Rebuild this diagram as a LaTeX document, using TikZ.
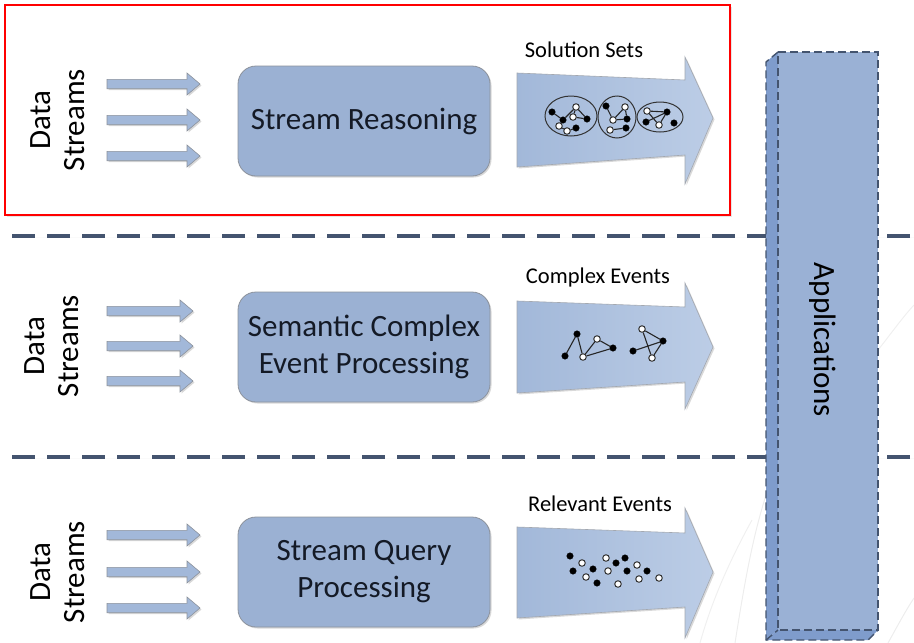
\documentclass[tikz,border=0pt]{standalone}
\usepackage{fontspec}
\setmainfont{Carlito}
\usetikzlibrary{shadows}
\definecolor{boxblue}{HTML}{9BB1D3}
\definecolor{arrowblue}{HTML}{A2B8D9}
\definecolor{arrowlight}{HTML}{BCCDE6}
\definecolor{frontblue}{HTML}{9AB1D5}
\definecolor{sideblue}{HTML}{7F9CCC}
\definecolor{dashnavy}{HTML}{44546F}
\definecolor{edgegray}{HTML}{8C929C}
\definecolor{inkdark}{HTML}{141A26}
% one line of text set with the font's own interword space
\newcommand\plainline[1]{\hbox{\spaceskip=0pt\xspaceskip=0pt\relax #1}}
\begin{document}
\begin{tikzpicture}[x=1pt,y=-1pt,
  softshadow/.style={drop shadow={opacity=0.3,shadow xshift=1.5pt,shadow yshift=-1.5pt}},
  procbox/.style={draw=edgegray,fill=boxblue,rounded corners=18pt,line width=0.8pt,
    minimum width=252pt,minimum height=110pt,align=center,
    text=inkdark,font=\fontsize{31}{37}\selectfont,softshadow},
  srclabel/.style={rotate=90,align=center,text=black,font=\fontsize{31}{34}\selectfont},
  outlabel/.style={text=black,font=\fontsize{22.5}{26}\selectfont},
  bigarrow/.style={draw=edgegray!80,line width=0.6pt,left color=arrowblue,right color=arrowlight,softshadow},
  smallarrow/.style={draw=edgegray,fill=arrowblue,line width=0.6pt,softshadow},
  sepline/.style={dashnavy,line width=4.2pt,dash pattern=on 23pt off 12pt,
    drop shadow={opacity=0.35,shadow xshift=1pt,shadow yshift=-1.5pt}},
  bn/.style={circle,fill=black,draw=black,inner sep=0pt,minimum size=6.5pt},
  wn/.style={circle,fill=white,draw=black!80,line width=1pt,inner sep=0pt,minimum size=6.5pt},
  gedge/.style={black!85,line width=1.1pt},
  setring/.style={draw=black!80,line width=1pt},
  appedge/.style={dashnavy,line width=1.4pt,dash pattern=on 8pt off 4pt}
]
\useasboundingbox (0,0) rectangle (914,643);

% faint strokes in the background
\draw[black!7,line width=1pt] (735,643) .. controls (745,580) and (755,520) .. (775,470);
\draw[black!7,line width=1pt] (888,643) .. controls (898,625) and (906,610) .. (914,598);
\draw[black!6,line width=1pt] (878,350) .. controls (890,335) and (902,318) .. (914,305);
\draw[black!6,line width=1pt] (700,643) .. controls (712,600) and (730,560) .. (752,520);

% frame around the stream reasoning layer
\draw[red,line width=1.6pt,drop shadow={opacity=0.2,shadow xshift=2pt,shadow yshift=-2pt},fill=white]
  (5,5) rectangle (730,215);

% dashed separators between the layers
\draw[sepline] (12,236) -- (914,236);
\draw[sepline] (12,457) -- (914,457);

% applications block with its side faces
\path[fill=sideblue] (778,52) -- (766,62) -- (766,640) -- (778,630) -- cycle;
\path[fill=sideblue] (766,640) -- (868,640) -- (878,630) -- (778,630) -- cycle;
\node[fill=frontblue,minimum width=100pt,minimum height=578pt,inner sep=0pt] (app) at (828,341) {};
\draw[appedge] (778,52) -- (878,52) -- (878,630) -- (778,630) -- cycle;
\draw[appedge] (778,52) -- (766,62) -- (766,640) -- (868,640) -- (878,630);
\draw[appedge] (766,640) -- (778,630);
\node[rotate=-90,text=black,font=\fontsize{31}{34}\selectfont] (apptext) at (823,340) {Applications};

% ---------- layer 1: stream reasoning ----------
\node[srclabel] (src1) at (58,120) {Data\\Streams};
\foreach \y in {84,120,156}
  \path[smallarrow] (107,\y-4.7) -- (187,\y-4.7) -- (187,\y-11) -- (200,\y) -- (187,\y+11) -- (187,\y+4.7) -- (107,\y+4.7) -- cycle;
\node[procbox] (proc1) at (364,121) {\plainline{Stream Reasoning}};
\path[bigarrow] (517,73) -- (685,80) -- (685,57) -- (713,118) -- (685,184) -- (685,155) -- (517,167) -- cycle;
\node[outlabel] (out1) at (584,50) {\plainline{Solution Sets}};
\draw[setring] (571,116) ellipse [x radius=26pt,y radius=20pt];
\draw[setring] (617,117) ellipse [x radius=19pt,y radius=21pt];
\draw[setring] (660,117) ellipse [x radius=23pt,y radius=15pt];
\node[bn] (a1) at (552,112) {};
\node[bn] (a2) at (563,120) {};
\node[wn] (a3) at (559,126) {};
\node[wn] (a4) at (567,131) {};
\node[bn] (a5) at (576,128) {};
\node[wn] (a6) at (573,117) {};
\node[wn] (a7) at (576,107) {};
\node[bn] (a8) at (587,119) {};
\draw[gedge] (a1) -- (a2) -- (a3) -- (a4) -- (a5);
\draw[gedge] (a2) -- (a7) -- (a8) -- (a6) -- (a7);
\node[bn] (b1) at (606,106) {};
\node[wn] (b2) at (625,107) {};
\node[wn] (b3) at (613,120) {};
\node[bn] (b4) at (627,119) {};
\node[wn] (b5) at (610,130) {};
\node[bn] (b6) at (626,128) {};
\draw[gedge] (b1) -- (b3) -- (b2) -- (b4) -- (b3);
\draw[gedge] (b5) -- (b6);
\node[wn] (c1) at (647,111) {};
\node[bn] (c2) at (667,112) {};
\node[bn] (c3) at (646,122) {};
\node[wn] (c4) at (659,125) {};
\node[bn] (c5) at (674,123) {};
\draw[gedge] (c1) -- (c2) -- (c3);
\draw[gedge] (c1) -- (c4) -- (c2);

% ---------- layer 2: semantic complex event processing ----------
\node[srclabel] (src2) at (52,346) {Data\\Streams};
\foreach \y in {311,346,381}
  \path[smallarrow] (107,\y-4.7) -- (180,\y-4.7) -- (180,\y-11) -- (193,\y) -- (180,\y+11) -- (180,\y+4.7) -- (107,\y+4.7) -- cycle;
\node[procbox] (proc2) at (364,347) {\plainline{Semantic Complex}\\\plainline{Event Processing}};
\path[bigarrow] (517,301) -- (685,307) -- (685,283) -- (713,347) -- (685,409) -- (685,382) -- (517,393) -- cycle;
\node[outlabel] (out2) at (598,277) {\plainline{Complex Events}};
\node[bn] (d1) at (565,356) {};
\node[bn] (d2) at (577,334) {};
\node[wn] (d3) at (583,357) {};
\node[wn] (d4) at (597,339) {};
\node[bn] (d5) at (613,348) {};
\draw[gedge] (d1) -- (d2) -- (d3) -- (d4) -- (d5) -- (d3);
\node[bn] (e1) at (633,351) {};
\node[wn] (e2) at (642,329) {};
\node[bn] (e3) at (663,341) {};
\node[wn] (e4) at (652,358) {};
\draw[gedge] (e1) -- (e3) -- (e2) -- (e4) -- (e3);

% ---------- layer 3: stream query processing ----------
\node[srclabel] (src3) at (58,572) {Data\\Streams};
\foreach \y in {535,572,608}
  \path[smallarrow] (107,\y-4.7) -- (187,\y-4.7) -- (187,\y-11) -- (200,\y) -- (187,\y+11) -- (187,\y+4.7) -- (107,\y+4.7) -- cycle;
\node[procbox] (proc3) at (364,572) {\plainline{Stream Query}\\\plainline{Processing}};
\path[bigarrow] (517,527) -- (685,533) -- (685,508) -- (713,572) -- (685,638) -- (685,607) -- (517,618) -- cycle;
\node[outlabel] (out3) at (600,504) {\plainline{Relevant Events}};
\foreach \px/\py [count=\i] in {570/556,573/571,593/569,597/583,616/563,625/558,627/571,647/571}
  \node[bn] (f\i) at (\px,\py) {};
\foreach \px/\py [count=\i] in {582/563,586/577,606/558,608/571,618/584,637/565,639/579,659/578}
  \node[wn] (g\i) at (\px,\py) {};
\end{tikzpicture}
\end{document}
